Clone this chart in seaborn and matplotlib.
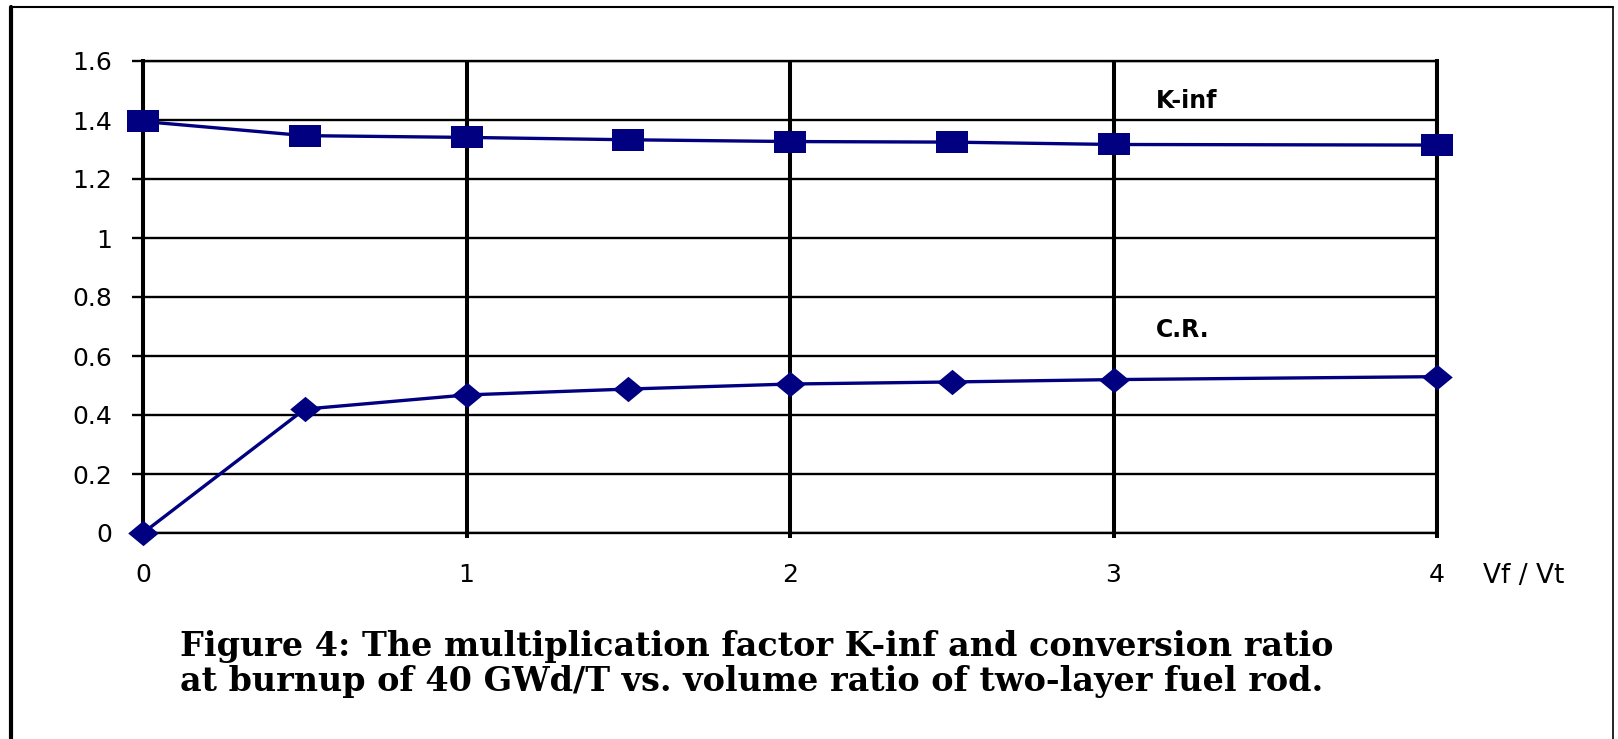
import numpy as np
import pandas as pd
import matplotlib
matplotlib.use("Agg")
import matplotlib.pyplot as plt
from matplotlib.lines import Line2D
import seaborn as sns

# data
vf_vt = [0, 0.5, 1, 1.5, 2, 2.5, 3, 4]
k_inf = [1.395, 1.347, 1.341, 1.333, 1.327, 1.325, 1.317, 1.315]
conv_ratio = [0.0, 0.42, 0.468, 0.488, 0.505, 0.512, 0.52, 0.53]
x_ticks = [0, 1, 2, 3, 4]
y_ticks = [0, 0.2, 0.4, 0.6, 0.8, 1.0, 1.2, 1.4, 1.6]
y_labels = ["0", "0.2", "0.4", "0.6", "0.8", "1", "1.2", "1.4", "1.6"]

df = pd.DataFrame({"Vf/Vt": vf_vt, "K-inf": k_inf, "C.R.": conv_ratio})

NAVY = "#000080"
sns.set_style("white")
plt.rcParams["font.family"] = ["DejaVu Sans"]
plt.rcParams["text.color"] = "black"
plt.rcParams["xtick.color"] = "black"
plt.rcParams["ytick.color"] = "black"

fig = plt.figure(figsize=(16.18, 7.39), dpi=100)
ax = fig.add_axes([143 / 1618, 1 - 533 / 739, 1294 / 1618, 472 / 739])

# wide square and diamond markers (the picture is stretched sideways)
square = [(-1, -0.66), (1, -0.66), (1, 0.66), (-1, 0.66)]
diamond = [(0, 0.83), (1, 0), (0, -0.83), (-1, 0)]

sns.lineplot(data=df, x="Vf/Vt", y="K-inf", ax=ax, color=NAVY, lw=2.4,
             marker=square, markersize=23, markeredgewidth=0, clip_on=False, zorder=5)
sns.lineplot(data=df, x="Vf/Vt", y="C.R.", ax=ax, color=NAVY, lw=2.4,
             marker=diamond, markersize=22, markeredgewidth=0, clip_on=False, zorder=5)

ax.set_xlim(0, 4)
ax.set_ylim(0, 1.6)
ax.set_xticks(x_ticks)
ax.set_yticks(y_ticks)
ax.set_yticklabels(y_labels)
ax.set_xlabel("")
ax.set_ylabel("")

ax.set_axisbelow(True)
ax.grid(axis="x", color="black", lw=2.9)
ax.grid(axis="y", color="black", lw=1.7)
for side in ["left", "right"]:
    ax.spines[side].set_linewidth(2.9)
    ax.spines[side].set_color("black")
for side in ["top", "bottom"]:
    ax.spines[side].set_linewidth(1.7)
    ax.spines[side].set_color("black")

ax.tick_params(axis="y", length=8, width=1.7, pad=14, labelsize=18, left=True)
ax.tick_params(axis="x", length=3.6, width=2.9, pad=18, labelsize=18, bottom=True)

ax.text(3.13, 1.441, "K-inf", fontsize=17, fontweight="bold", va="baseline", ha="left")
ax.text(3.13, 0.664, "C.R.", fontsize=17, fontweight="bold", va="baseline", ha="left")

fig.text(1483 / 1618, 1 - 583 / 739, "Vf / Vt", fontsize=19, va="baseline", ha="left")

caption = ("Figure 4: The multiplication factor K-inf and conversion ratio\n"
           "at burnup of 40 GWd/T vs. volume ratio of two-layer fuel rod.")
fig.text(180 / 1618, 1 - 630 / 739, caption, fontsize=24, fontweight="bold",
         family=["DejaVu Serif"], va="top", ha="left", linespacing=1.06)

# frame around the figure (left, top, right edges)
fig.add_artist(Line2D([11 / 1618, 11 / 1618], [0, 1 - 7 / 739], transform=fig.transFigure,
                      color="black", lw=3))
fig.add_artist(Line2D([11 / 1618, 1613 / 1618], [1 - 7 / 739, 1 - 7 / 739],
                      transform=fig.transFigure, color="black", lw=1.5))
fig.add_artist(Line2D([1613 / 1618, 1613 / 1618], [0, 1 - 7 / 739], transform=fig.transFigure,
                      color="black", lw=1.2))

fig.savefig("out.png", dpi=100, facecolor="white")
